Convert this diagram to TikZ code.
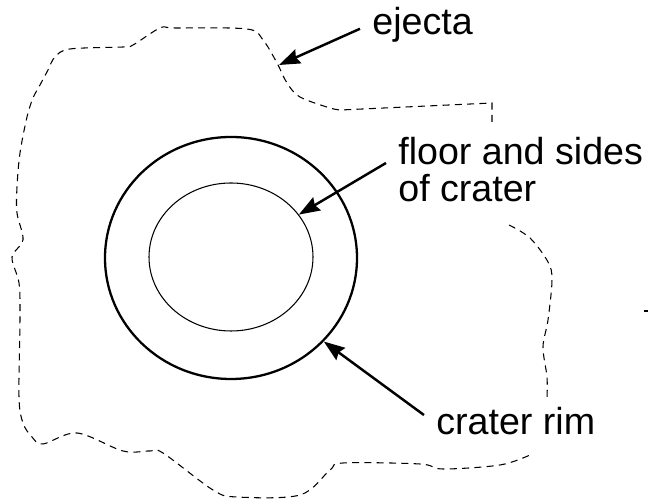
\documentclass[tikz,border=0pt]{standalone}
\usepackage{fontspec}
\setmainfont{Liberation Sans}
\usetikzlibrary{arrows.meta, positioning, shapes.geometric}

\begin{document}
\begin{tikzpicture}[
    every node/.style={font=\fontsize{21.4}{21}\selectfont},
    rotulo/.style={
        inner sep=0.24cm,
        align=left
    },
    seta/.style={
        -{Stealth[length=0.42cm, width=0.3cm, inset=0.05cm]},
        line width=1.4pt
    },
    contorno/.style={
        draw=black,
        line width=0.6pt,
        dash pattern=on 4pt off 3pt
    }
]

\useasboundingbox (0,0) rectangle (12.96,10);

% ============================================================
% CRATERA
% ============================================================

\node[
    ellipse,
    draw=black,
    line width=1.3pt,
    minimum width=5.04cm,
    minimum height=4.84cm,
    inner sep=0pt
] (rim) at (4.62,4.84) {};

\node[
    ellipse,
    draw=black,
    line width=0.6pt,
    minimum width=3.28cm,
    minimum height=2.96cm,
    inner sep=0pt
] (floor) at (4.62,4.86) {};

% ============================================================
% EJECTA
% ============================================================

\draw[contorno]
(9.84,7.56) -- (9.84,7.94) --
plot[smooth, tension=0.55] coordinates {
    (6.82,7.80) (6.60,7.84) (6.00,8.06) (5.74,8.34) (5.54,8.74)
    (5.26,9.20) (4.94,9.42) (3.50,9.44) (3.20,9.44) (2.66,9.10)
    (2.46,9.06) (1.40,9.02) (1.10,8.86) (0.96,8.60) (0.80,8.30)
    (0.66,8.04) (0.54,7.66) (0.40,6.94) (0.34,6.26) (0.34,5.74)
    (0.46,5.20) (0.24,4.86) (0.38,4.34) (0.40,3.66) (0.38,2.06)
    (0.46,1.54) (0.64,1.26) (0.86,1.12) (1.54,1.34) (2.46,0.98)
    (3.00,0.98) (3.26,0.94) (4.26,0.20) (4.74,0.06) (6.00,0.10)
    (6.60,0.60) (6.86,0.74) (8.40,0.72) (8.86,0.62) (10.00,0.70)
    (10.60,0.90)
};

\draw[contorno]
plot[smooth, tension=0.55] coordinates {
    (10.18,5.50) (10.60,5.24) (10.96,4.76) (11.04,4.40)
    (10.96,3.60) (10.86,3.06) (10.94,2.46) (10.94,2.04)
};

% traço solto na margem
\draw[line width=0.6pt] (12.88,3.78) -- (12.96,3.78);

\coordinate (ejectatip) at (5.58,8.70);

% ============================================================
% ROTULOS
% ============================================================

\node[
    rotulo,
    anchor=base west
] (ejectatext) at (7.20,9.30)
{ejecta};

\node[
    rotulo,
    anchor=west
] (floortext) at (7.72,6.60)
{floor and sides\\
of crater};

\node[
    rotulo,
    anchor=base west
] (rimtext) at (8.48,1.30)
{crater rim};

% Setas
\draw[seta] ([yshift=-0.07cm]ejectatext.west) -- (ejectatip);
\draw[seta] ([yshift=0.14cm]floortext.west) -- (floor.32);
\draw[seta] ([yshift=0.13cm]rimtext.west) -- (rim.318);

\end{tikzpicture}
\end{document}
